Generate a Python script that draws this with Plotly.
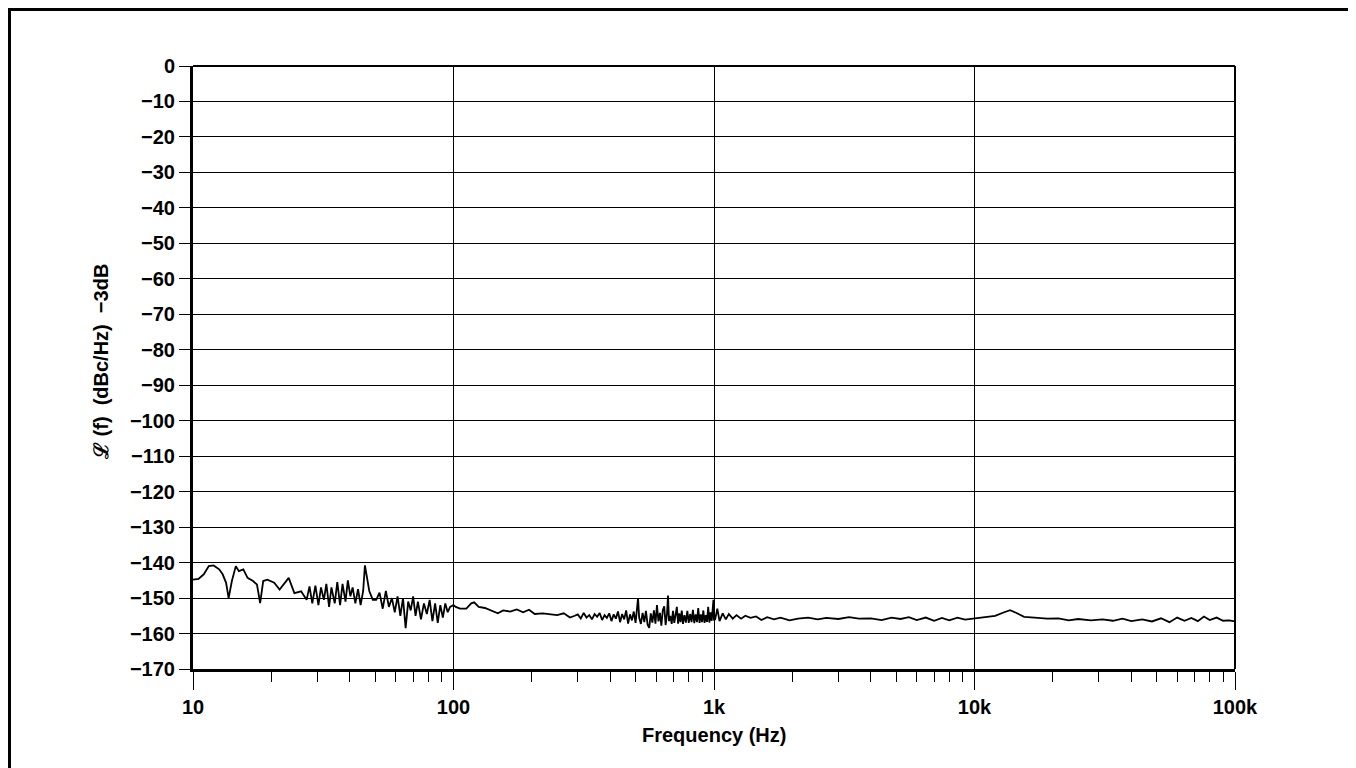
import plotly.graph_objects as go

# ---- data, split by decade ----
freq_10_100 = [
    10.0, 10.5, 11.0, 11.5, 12.0, 12.6, 13.0, 13.4, 13.7, 14.1, 14.6, 15.0, 15.6, 16.2, 17.0, 17.6,
    18.1, 18.6, 19.3, 20.5, 21.5, 22.5, 23.3, 24.5, 26.0, 27.3, 28.0,
    28.7, 29.5, 30.3, 31.0, 31.8, 32.5, 33.3, 34.0, 35.0, 35.8, 36.7, 37.5, 38.5, 39.3, 40.2, 41.0,
    42.0, 43.0, 44.0, 45.0, 45.7, 46.5, 47.5, 49.0, 50.5,
    52, 53.5, 55, 56.5, 58, 59.5, 61, 62.5, 64, 65.5, 67, 68.5, 70, 71.5, 73, 75, 77, 79, 81, 83,
    85, 87, 89, 91, 93, 95, 97,
]
pn_10_100 = [
    -144.8, -144.6, -143.3, -141.0, -140.8, -141.9, -143.3, -145.7, -150.0, -145.2, -141.0, -142.4,
    -141.9, -144.3, -145.2, -146.2, -151.4, -145.2, -144.8, -145.7, -147.6, -145.7, -144.3, -148.6,
    -148.1, -150.5, -146.7,
    -151.5, -146.5, -152.0, -147.0, -150.5, -146.0, -152.5, -147.0, -151.5, -145.5, -152.0, -146.0,
    -151.0, -145.0, -149.5, -147.0, -151.5, -147.5, -152.0, -148.0, -140.8, -144.0, -148.0, -150.5,
    -150.5,
    -148.5, -153.0, -148.0, -152.5, -150.0, -154.0, -149.5, -155.0, -150.0, -158.5, -151.0, -153.5,
    -149.5, -155.0, -151.0, -156.0, -151.5, -154.5, -150.5, -156.5, -151.5, -157.0, -152.0, -155.5,
    -151.5, -154.0, -152.5,
]

freq_100_1k = [
    100, 102, 106, 112, 117, 120, 125, 132, 140, 148, 155, 165, 175, 185, 195, 205, 220, 235, 250,
    265, 280, 292,
    300, 308, 316, 324, 332, 340, 348, 356, 364, 372, 380, 388, 396, 404, 412, 420, 428, 436, 444,
    452, 460, 468, 476, 484, 492, 500, 506, 511, 516, 524, 532, 540, 548, 556, 564, 572, 580, 588,
    596, 604, 612, 620, 628, 636, 644, 652, 660, 666, 672, 680, 688, 696, 704, 712, 720, 728, 736,
    744, 752, 760, 770, 780, 790, 800, 810, 820, 830, 840, 850, 860, 870, 880, 890, 900, 910, 920,
    930, 940, 950, 960, 970, 980, 990, 995,
]
pn_100_1k = [
    -152.0, -152.5, -153.0, -153.0, -151.5, -151.2, -152.5, -152.8, -153.5, -154.3, -153.5, -153.8,
    -153.2, -154.0, -153.3, -154.5, -154.3, -154.5, -154.8, -154.3, -155.5, -155.0,
    -154.6, -155.8, -154.2, -155.5, -154.8, -156.0, -154.5, -155.3, -154.2, -156.2, -154.8, -155.6,
    -154.3, -156.5, -154.6, -155.8, -153.8, -156.8, -154.5, -156.0, -153.5, -157.2, -154.6, -156.3,
    -153.8, -157.0, -154.0, -150.0, -155.5, -157.3, -154.2, -156.8, -153.6, -157.5, -158.4, -154.3,
    -156.9, -153.5, -157.2, -152.0, -156.6, -154.2, -157.8, -153.4, -152.3, -157.6, -154.5, -149.3,
    -156.5, -155.0, -157.3, -153.6, -157.0, -154.6, -152.5, -157.2, -154.3, -156.8, -153.5, -157.3,
    -154.8, -156.9, -153.6, -157.0, -154.5, -156.8, -153.3, -157.1, -154.6, -156.8, -152.8, -157.0,
    -154.6, -156.8, -153.5, -157.0, -154.8, -156.7, -152.5, -156.9, -154.0, -156.4, -152.0, -150.5,
]

freq_1k_100k = [
    1000, 1010, 1030, 1050, 1080, 1110, 1140, 1180, 1220, 1270, 1320, 1380, 1450, 1520, 1600, 1700,
    1800, 1950, 2100, 2300, 2500, 2700, 3000, 3300, 3600, 4000, 4400, 4800, 5200, 5600, 6000, 6500,
    7000, 7500, 8000, 8600, 9200,
    10000, 11000, 12000, 13000, 13700, 14500, 15500, 17000, 19000, 21000, 23000, 25000, 28000,
    31000, 34000, 37000, 40000, 44000, 48000, 52000, 56000, 60000, 64000, 68000, 72000, 76000,
    80000, 85000, 90000, 95000, 100000,
]
pn_1k_100k = [
    -156.3, -156.0, -153.0, -156.5, -154.3, -156.0, -154.5, -155.8, -154.8, -155.8, -155.0, -155.6,
    -155.2, -156.2, -155.4, -156.0, -155.5, -156.3, -155.8, -155.5, -156.0, -155.6, -155.9, -155.4,
    -155.8, -155.7, -156.2, -155.5, -155.9, -155.4, -156.2, -155.5, -156.4, -155.6, -156.3, -155.5,
    -156.1,
    -155.8, -155.5, -155.0, -154.0, -153.4, -154.2, -155.3, -155.5, -155.8, -155.7, -156.3, -155.9,
    -156.3, -156.0, -156.4, -155.8, -156.5, -156.0, -156.6, -155.7, -156.8, -155.5, -156.4, -155.6,
    -156.5, -155.2, -156.2, -155.5, -156.4, -156.3, -156.6,
]

freq_hz = freq_10_100 + freq_100_1k + freq_1k_100k
phase_noise_dbc = pn_10_100 + pn_100_1k + pn_1k_100k

x_tick_vals = [10, 100, 1000, 10000, 100000]
x_tick_text = ["10", "100", "1k", "10k", "100k"]
x_minor_vals = [m * d for d in (10, 100, 1000, 10000) for m in range(2, 10)]
y_tick_vals = list(range(0, -171, -10))
y_tick_text = [("\u2212" + str(-v)) if v < 0 else str(v) for v in y_tick_vals]

# page body has an 8px margin, so figure coordinates = screen - 8
OFF = 8
W, H = 1356, 768
L, R, T, B = 193 - OFF, 1235 - OFF, 66 - OFF, 669 - OFF

def px(xp):
    return (xp - OFF - L) / (R - L)

def py(yp):
    return (B - (yp - OFF)) / (B - T)

font_fam = "Liberation Sans, Arial, sans-serif"
FS = 20

fig = go.Figure()
fig.add_trace(go.Scatter(
    x=freq_hz, y=phase_noise_dbc, mode="lines",
    line=dict(color="black", width=1.8), showlegend=False, hoverinfo="skip",
))

fig.update_layout(
    width=W, height=H,
    margin=dict(l=L, r=W - R, t=T, b=H - B, pad=0),
    paper_bgcolor="white", plot_bgcolor="white",
    showlegend=False,
    xaxis=dict(
        type="log", range=[1, 5],
        tickmode="array", tickvals=x_tick_vals, ticktext=x_tick_text,
        ticks="outside", ticklen=18, tickwidth=1, tickcolor="black",
        showgrid=True, gridcolor="black", gridwidth=1,
        showline=True, linecolor="black", linewidth=3, mirror=False,
        zeroline=False,
        tickfont=dict(family=font_fam, size=FS, color="black", weight="bold"),
        minor=dict(tickmode="array", tickvals=x_minor_vals, ticks="outside",
                   ticklen=10, tickwidth=1, tickcolor="black", showgrid=False),
    ),
    yaxis=dict(
        range=[-170, 0],
        tickmode="array", tickvals=y_tick_vals, ticktext=y_tick_text,
        ticks="outside", ticklen=11, tickwidth=1, tickcolor="black",
        showgrid=True, gridcolor="black", gridwidth=1,
        showline=True, linecolor="black", linewidth=3, mirror=False,
        zeroline=False,
        tickfont=dict(family=font_fam, size=FS, color="black", weight="bold"),
    ),
    shapes=[
        dict(type="line", xref="paper", yref="paper", x0=0, x1=1, y0=1, y1=1,
             line=dict(color="black", width=2)),
        dict(type="line", xref="paper", yref="paper", x0=1, x1=1, y0=0, y1=1,
             line=dict(color="black", width=2)),
        dict(type="rect", xref="paper", yref="paper",
             x0=px(9.5), x1=px(1350.5), y0=py(9.5), y1=py(780),
             line=dict(color="black", width=3), fillcolor="rgba(0,0,0,0)"),
    ],
    annotations=[
        dict(text="Frequency (Hz)", xref="paper", yref="paper",
             x=0.5, y=py(735), xanchor="center", yanchor="middle", showarrow=False,
             font=dict(family=font_fam, size=FS, color="black", weight="bold")),
        dict(text="\u2112 (f)&nbsp;&nbsp;(dBc/Hz)&nbsp;&nbsp;\u22123dB", xref="paper", yref="paper",
             x=px(101), y=py(362), xanchor="center", yanchor="middle", showarrow=False,
             textangle=-90,
             font=dict(family=font_fam, size=FS, color="black", weight="bold")),
    ],
)

fig.write_html("out.html")
